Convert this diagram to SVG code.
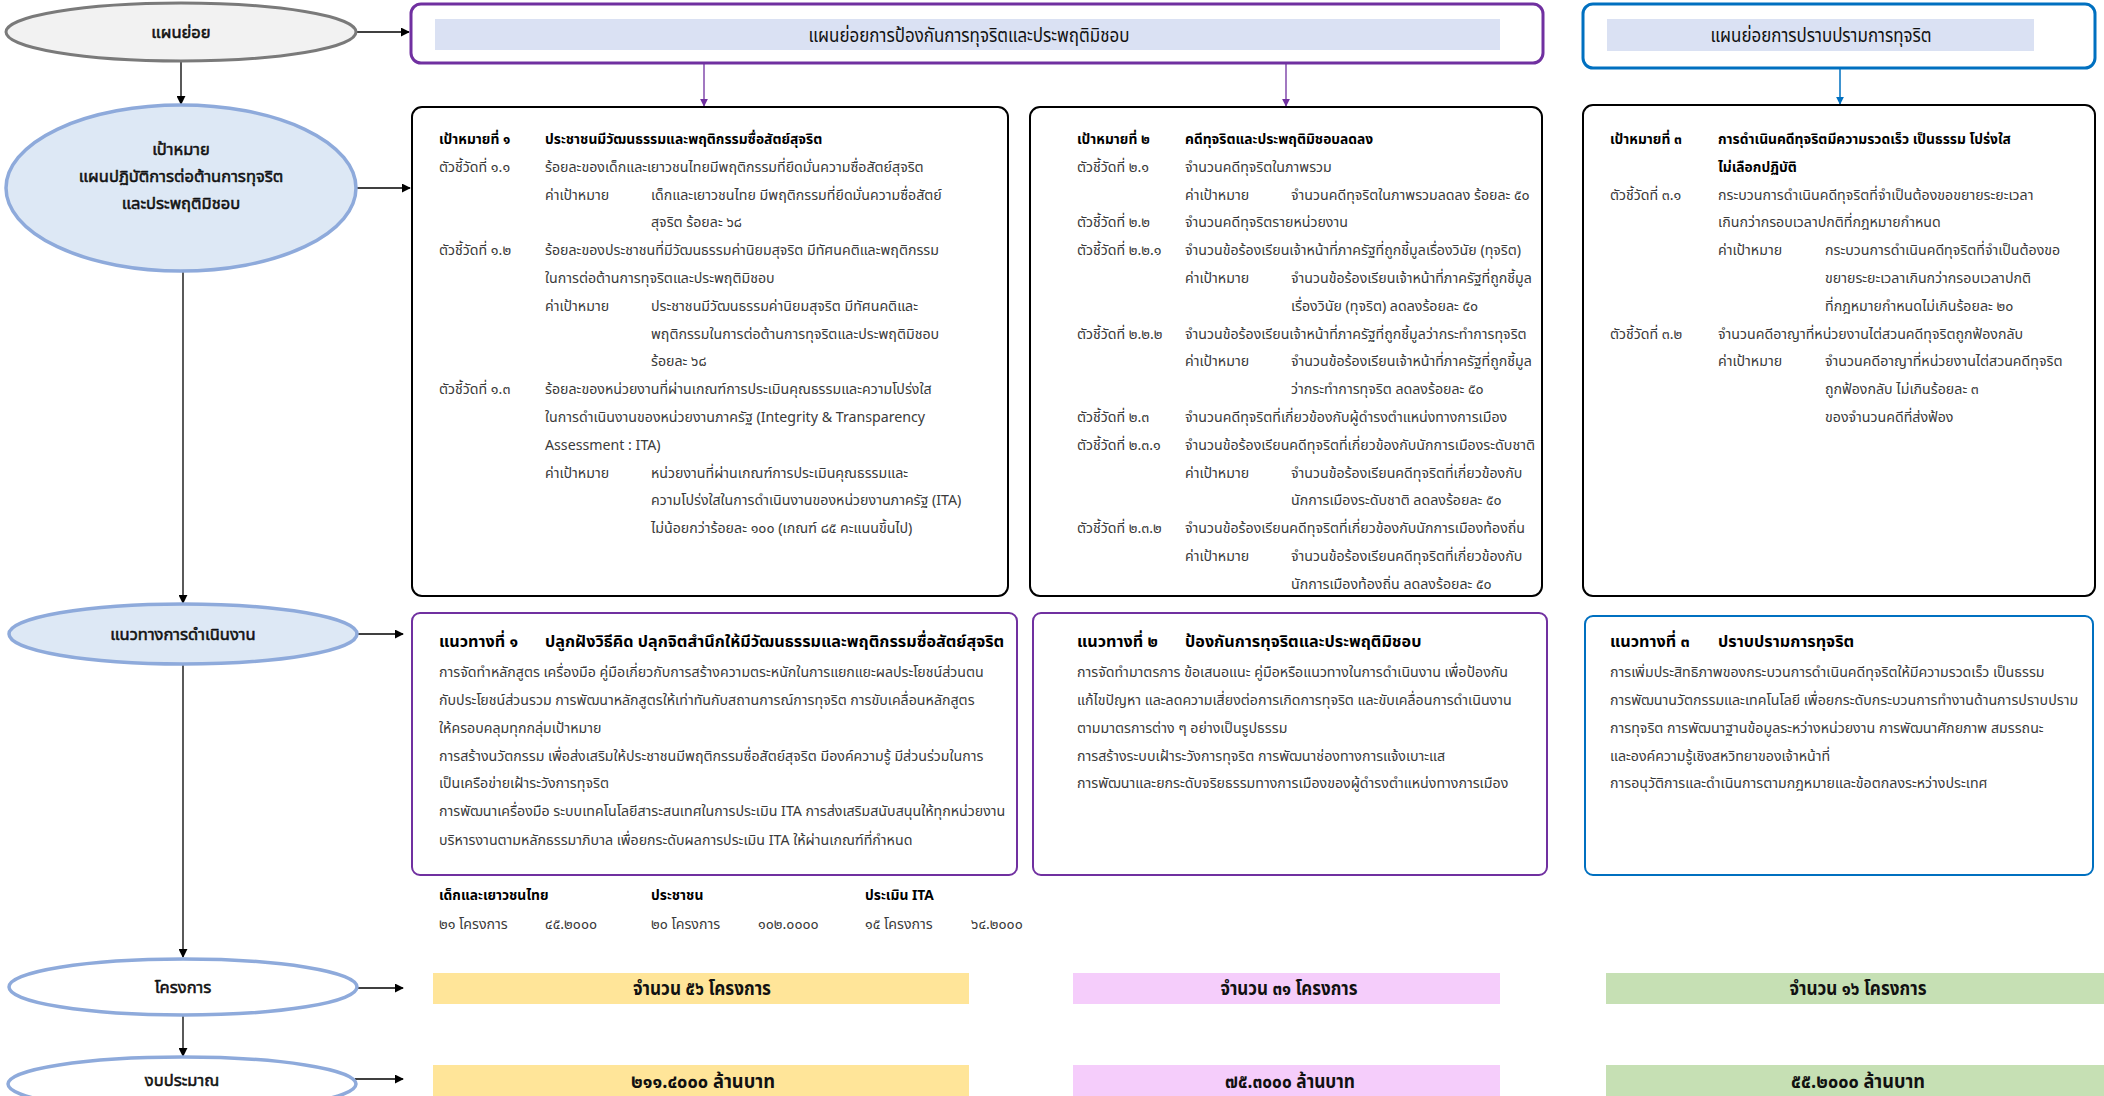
<svg xmlns="http://www.w3.org/2000/svg" width="2104" height="1096" viewBox="0 0 2104 1096">
<defs>
<marker id="ak" viewBox="0 0 10 10" refX="9" refY="5" markerWidth="9" markerHeight="9" markerUnits="userSpaceOnUse" orient="auto"><path d="M0,0 L10,5 L0,10 z" fill="#000"/></marker>
<marker id="ap" viewBox="0 0 10 10" refX="9" refY="5" markerWidth="8" markerHeight="8" markerUnits="userSpaceOnUse" orient="auto"><path d="M0,0 L10,5 L0,10 z" fill="#7030a0"/></marker>
<marker id="ab" viewBox="0 0 10 10" refX="9" refY="5" markerWidth="8" markerHeight="8" markerUnits="userSpaceOnUse" orient="auto"><path d="M0,0 L10,5 L0,10 z" fill="#0070c0"/></marker>
</defs>
<style>
text{font-family:"Noto Sans Thai","Tahoma","Leelawadee UI","Loma","Garuda","Noto Sans","DejaVu Sans",sans-serif;}
.t{font-size:14.2px;fill:#3a3a3a;}
.b{font-size:13.8px;fill:#000;font-weight:bold;}
.gt{font-size:16.2px;fill:#000;font-weight:bold;}
.el{font-size:16.5px;fill:#111;stroke:#111;stroke-width:0.55;text-anchor:middle;}
.hd{font-size:19px;fill:#111;text-anchor:middle;}
.bar{font-size:19px;fill:#111;font-weight:bold;text-anchor:middle;}
.box{fill:#fff;stroke:#000;stroke-width:2;}
.gp{fill:#fff;stroke:#7030a0;stroke-width:2;}
.gb{fill:#fff;stroke:#0070c0;stroke-width:2;}
.c{stroke:#000;stroke-width:1.3;fill:none;marker-end:url(#ak);}
.cp{stroke:#7030a0;stroke-width:1.3;fill:none;marker-end:url(#ap);}
.cb{stroke:#0070c0;stroke-width:1.5;fill:none;marker-end:url(#ab);}
</style>
<rect width="2104" height="1096" fill="#fff"/>

<g id="connectors">
<path class="c" d="M357,32 L409,32"/>
<path class="c" d="M181,62 L181,104"/>
<path class="c" d="M357,188 L410,188"/>
<path class="c" d="M183,271 L183,603"/>
<path class="c" d="M357,634 L403,634"/>
<path class="c" d="M183,665 L183,957"/>
<path class="c" d="M357,988 L403,988"/>
<path class="c" d="M183,1016 L183,1056"/>
<path class="c" d="M355,1079 L403,1079"/>
<path class="cp" d="M704,64 L704,106"/>
<path class="cp" d="M1286,64 L1286,106"/>
<path class="cb" d="M1840,68 L1840,104"/>
</g>

<g id="n-plan">
<ellipse cx="181" cy="32" rx="175" ry="29" fill="#f2f2f2" stroke="#7a7a7a" stroke-width="3"/>
<text class="el" x="181" y="38">แผนย่อย</text>
</g>
<g id="n-goal">
<ellipse cx="181" cy="188" rx="175" ry="83" fill="#dde8f5" stroke="#8eaadb" stroke-width="3.5"/>
<text class="el" x="181" y="155">เป้าหมาย</text>
<text class="el" x="181" y="182">แผนปฏิบัติการต่อต้านการทุจริต</text>
<text class="el" x="181" y="209">และประพฤติมิชอบ</text>
</g>
<g id="n-guide">
<ellipse cx="183" cy="634" rx="174" ry="30" fill="#dde8f5" stroke="#8eaadb" stroke-width="3.5"/>
<text class="el" x="183" y="640">แนวทางการดำเนินงาน</text>
</g>
<g id="n-project">
<ellipse cx="183" cy="987" rx="174" ry="28" fill="#fff" stroke="#8eaadb" stroke-width="3.5"/>
<text class="el" x="183" y="993">โครงการ</text>
</g>
<g id="n-budget">
<ellipse cx="182" cy="1084" rx="174" ry="27" fill="#fff" stroke="#8eaadb" stroke-width="3.5"/>
<text class="el" x="182" y="1086">งบประมาณ</text>
</g>

<g id="h-prevent">
<rect x="411" y="4" width="1132" height="59" rx="10" fill="#fff" stroke="#7030a0" stroke-width="3"/>
<rect x="435" y="19" width="1065" height="31" fill="#dae1f3"/>
<text class="hd" x="969" y="42" textLength="321" lengthAdjust="spacingAndGlyphs">แผนย่อยการป้องกันการทุจริตและประพฤติมิชอบ</text>
</g>
<g id="h-suppress">
<rect x="1583" y="4" width="512" height="64" rx="10" fill="#fff" stroke="#0070c0" stroke-width="3"/>
<rect x="1607" y="19" width="427" height="32" fill="#dae1f3"/>
<text class="hd" x="1821" y="42" textLength="221" lengthAdjust="spacingAndGlyphs">แผนย่อยการปราบปรามการทุจริต</text>
</g>

<g id="goal1">
<rect class="box" x="412" y="107" width="596" height="489" rx="10"/>
<text class="b" x="439" y="144">เป้าหมายที่ ๑</text><text class="b" x="545" y="144">ประชาชนมีวัฒนธรรมและพฤติกรรมซื่อสัตย์สุจริต</text>
<text class="t" x="439" y="172">ตัวชี้วัดที่ ๑.๑</text><text class="t" x="545" y="172">ร้อยละของเด็กและเยาวชนไทยมีพฤติกรรมที่ยึดมั่นความซื่อสัตย์สุจริต</text>
<text class="t" x="545" y="200">ค่าเป้าหมาย</text><text class="t" x="651" y="200">เด็กและเยาวชนไทย มีพฤติกรรมที่ยึดมั่นความซื่อสัตย์</text>
<text class="t" x="651" y="227">สุจริต ร้อยละ ๖๘</text>
<text class="t" x="439" y="255">ตัวชี้วัดที่ ๑.๒</text><text class="t" x="545" y="255">ร้อยละของประชาชนที่มีวัฒนธรรมค่านิยมสุจริต มีทัศนคติและพฤติกรรม</text>
<text class="t" x="545" y="283">ในการต่อต้านการทุจริตและประพฤติมิชอบ</text>
<text class="t" x="545" y="311">ค่าเป้าหมาย</text><text class="t" x="651" y="311">ประชาชนมีวัฒนธรรมค่านิยมสุจริต มีทัศนคติและ</text>
<text class="t" x="651" y="339">พฤติกรรมในการต่อต้านการทุจริตและประพฤติมิชอบ</text>
<text class="t" x="651" y="366">ร้อยละ ๖๘</text>
<text class="t" x="439" y="394">ตัวชี้วัดที่ ๑.๓</text><text class="t" x="545" y="394">ร้อยละของหน่วยงานที่ผ่านเกณฑ์การประเมินคุณธรรมและความโปร่งใส</text>
<text class="t" x="545" y="422">ในการดำเนินงานของหน่วยงานภาครัฐ (Integrity &amp; Transparency</text>
<text class="t" x="545" y="450">Assessment : ITA)</text>
<text class="t" x="545" y="478">ค่าเป้าหมาย</text><text class="t" x="651" y="478">หน่วยงานที่ผ่านเกณฑ์การประเมินคุณธรรมและ</text>
<text class="t" x="651" y="505">ความโปร่งใสในการดำเนินงานของหน่วยงานภาครัฐ (ITA)</text>
<text class="t" x="651" y="533">ไม่น้อยกว่าร้อยละ ๑๐๐ (เกณฑ์ ๘๕ คะแนนขึ้นไป)</text>
</g>

<g id="goal2">
<rect class="box" x="1030" y="107" width="512" height="489" rx="10"/>
<text class="b" x="1077" y="144">เป้าหมายที่ ๒</text><text class="b" x="1185" y="144">คดีทุจริตและประพฤติมิชอบลดลง</text>
<text class="t" x="1077" y="172">ตัวชี้วัดที่ ๒.๑</text><text class="t" x="1185" y="172">จำนวนคดีทุจริตในภาพรวม</text>
<text class="t" x="1185" y="200">ค่าเป้าหมาย</text><text class="t" x="1291" y="200">จำนวนคดีทุจริตในภาพรวมลดลง ร้อยละ ๕๐</text>
<text class="t" x="1077" y="227">ตัวชี้วัดที่ ๒.๒</text><text class="t" x="1185" y="227">จำนวนคดีทุจริตรายหน่วยงาน</text>
<text class="t" x="1077" y="255">ตัวชี้วัดที่ ๒.๒.๑</text><text class="t" x="1185" y="255">จำนวนข้อร้องเรียนเจ้าหน้าที่ภาครัฐที่ถูกชี้มูลเรื่องวินัย (ทุจริต)</text>
<text class="t" x="1185" y="283">ค่าเป้าหมาย</text><text class="t" x="1291" y="283">จำนวนข้อร้องเรียนเจ้าหน้าที่ภาครัฐที่ถูกชี้มูล</text>
<text class="t" x="1291" y="311">เรื่องวินัย (ทุจริต) ลดลงร้อยละ ๕๐</text>
<text class="t" x="1077" y="339">ตัวชี้วัดที่ ๒.๒.๒</text><text class="t" x="1185" y="339">จำนวนข้อร้องเรียนเจ้าหน้าที่ภาครัฐที่ถูกชี้มูลว่ากระทำการทุจริต</text>
<text class="t" x="1185" y="366">ค่าเป้าหมาย</text><text class="t" x="1291" y="366">จำนวนข้อร้องเรียนเจ้าหน้าที่ภาครัฐที่ถูกชี้มูล</text>
<text class="t" x="1291" y="394">ว่ากระทำการทุจริต ลดลงร้อยละ ๕๐</text>
<text class="t" x="1077" y="422">ตัวชี้วัดที่ ๒.๓</text><text class="t" x="1185" y="422">จำนวนคดีทุจริตที่เกี่ยวข้องกับผู้ดำรงตำแหน่งทางการเมือง</text>
<text class="t" x="1077" y="450">ตัวชี้วัดที่ ๒.๓.๑</text><text class="t" x="1185" y="450">จำนวนข้อร้องเรียนคดีทุจริตที่เกี่ยวข้องกับนักการเมืองระดับชาติ</text>
<text class="t" x="1185" y="478">ค่าเป้าหมาย</text><text class="t" x="1291" y="478">จำนวนข้อร้องเรียนคดีทุจริตที่เกี่ยวข้องกับ</text>
<text class="t" x="1291" y="505">นักการเมืองระดับชาติ ลดลงร้อยละ ๕๐</text>
<text class="t" x="1077" y="533">ตัวชี้วัดที่ ๒.๓.๒</text><text class="t" x="1185" y="533">จำนวนข้อร้องเรียนคดีทุจริตที่เกี่ยวข้องกับนักการเมืองท้องถิ่น</text>
<text class="t" x="1185" y="561">ค่าเป้าหมาย</text><text class="t" x="1291" y="561">จำนวนข้อร้องเรียนคดีทุจริตที่เกี่ยวข้องกับ</text>
<text class="t" x="1291" y="589">นักการเมืองท้องถิ่น ลดลงร้อยละ ๕๐</text>
</g>

<g id="goal3">
<rect class="box" x="1583" y="105" width="512" height="491" rx="10"/>
<text class="b" x="1610" y="144">เป้าหมายที่ ๓</text><text class="b" x="1718" y="144">การดำเนินคดีทุจริตมีความรวดเร็ว เป็นธรรม โปร่งใส</text>
<text class="b" x="1718" y="172">ไม่เลือกปฏิบัติ</text>
<text class="t" x="1610" y="200">ตัวชี้วัดที่ ๓.๑</text><text class="t" x="1718" y="200">กระบวนการดำเนินคดีทุจริตที่จำเป็นต้องขอขยายระยะเวลา</text>
<text class="t" x="1718" y="227">เกินกว่ากรอบเวลาปกติที่กฎหมายกำหนด</text>
<text class="t" x="1718" y="255">ค่าเป้าหมาย</text><text class="t" x="1825" y="255">กระบวนการดำเนินคดีทุจริตที่จำเป็นต้องขอ</text>
<text class="t" x="1825" y="283">ขยายระยะเวลาเกินกว่ากรอบเวลาปกติ</text>
<text class="t" x="1825" y="311">ที่กฎหมายกำหนดไม่เกินร้อยละ ๒๐</text>
<text class="t" x="1610" y="339">ตัวชี้วัดที่ ๓.๒</text><text class="t" x="1718" y="339">จำนวนคดีอาญาที่หน่วยงานไต่สวนคดีทุจริตถูกฟ้องกลับ</text>
<text class="t" x="1718" y="366">ค่าเป้าหมาย</text><text class="t" x="1825" y="366">จำนวนคดีอาญาที่หน่วยงานไต่สวนคดีทุจริต</text>
<text class="t" x="1825" y="394">ถูกฟ้องกลับ ไม่เกินร้อยละ ๓</text>
<text class="t" x="1825" y="422">ของจำนวนคดีที่ส่งฟ้อง</text>
</g>

<g id="guide1">
<rect class="gp" x="412" y="613" width="605" height="262" rx="8"/>
<text class="gt" x="439" y="647">แนวทางที่ ๑</text><text class="gt" x="545" y="647">ปลูกฝังวิธีคิด ปลุกจิตสำนึกให้มีวัฒนธรรมและพฤติกรรมซื่อสัตย์สุจริต</text>
<text class="t" x="439" y="677">การจัดทำหลักสูตร เครื่องมือ คู่มือเกี่ยวกับการสร้างความตระหนักในการแยกแยะผลประโยชน์ส่วนตน</text>
<text class="t" x="439" y="705">กับประโยชน์ส่วนรวม การพัฒนาหลักสูตรให้เท่าทันกับสถานการณ์การทุจริต การขับเคลื่อนหลักสูตร</text>
<text class="t" x="439" y="733">ให้ครอบคลุมทุกกลุ่มเป้าหมาย</text>
<text class="t" x="439" y="761">การสร้างนวัตกรรม เพื่อส่งเสริมให้ประชาชนมีพฤติกรรมซื่อสัตย์สุจริต มีองค์ความรู้ มีส่วนร่วมในการ</text>
<text class="t" x="439" y="788">เป็นเครือข่ายเฝ้าระวังการทุจริต</text>
<text class="t" x="439" y="816">การพัฒนาเครื่องมือ ระบบเทคโนโลยีสาระสนเทศในการประเมิน ITA การส่งเสริมสนับสนุนให้ทุกหน่วยงาน</text>
<text class="t" x="439" y="845">บริหารงานตามหลักธรรมาภิบาล เพื่อยกระดับผลการประเมิน ITA ให้ผ่านเกณฑ์ที่กำหนด</text>
</g>

<g id="guide2">
<rect class="gp" x="1033" y="613" width="514" height="262" rx="8"/>
<text class="gt" x="1077" y="647">แนวทางที่ ๒</text><text class="gt" x="1185" y="647">ป้องกันการทุจริตและประพฤติมิชอบ</text>
<text class="t" x="1077" y="677">การจัดทำมาตรการ ข้อเสนอแนะ คู่มือหรือแนวทางในการดำเนินงาน เพื่อป้องกัน</text>
<text class="t" x="1077" y="705">แก้ไขปัญหา และลดความเสี่ยงต่อการเกิดการทุจริต และขับเคลื่อนการดำเนินงาน</text>
<text class="t" x="1077" y="733">ตามมาตรการต่าง ๆ อย่างเป็นรูปธรรม</text>
<text class="t" x="1077" y="761">การสร้างระบบเฝ้าระวังการทุจริต การพัฒนาช่องทางการแจ้งเบาะแส</text>
<text class="t" x="1077" y="788">การพัฒนาและยกระดับจริยธรรมทางการเมืองของผู้ดำรงตำแหน่งทางการเมือง</text>
</g>

<g id="guide3">
<rect class="gb" x="1585" y="616" width="508" height="259" rx="8"/>
<text class="gt" x="1610" y="647">แนวทางที่ ๓</text><text class="gt" x="1718" y="647">ปราบปรามการทุจริต</text>
<text class="t" x="1610" y="677">การเพิ่มประสิทธิภาพของกระบวนการดำเนินคดีทุจริตให้มีความรวดเร็ว เป็นธรรม</text>
<text class="t" x="1610" y="705">การพัฒนานวัตกรรมและเทคโนโลยี เพื่อยกระดับกระบวนการทำงานด้านการปราบปราม</text>
<text class="t" x="1610" y="733">การทุจริต การพัฒนาฐานข้อมูลระหว่างหน่วยงาน การพัฒนาศักยภาพ สมรรถนะ</text>
<text class="t" x="1610" y="761">และองค์ความรู้เชิงสหวิทยาของเจ้าหน้าที่</text>
<text class="t" x="1610" y="788">การอนุวัติการและดำเนินการตามกฎหมายและข้อตกลงระหว่างประเทศ</text>
</g>

<g id="stats">
<text class="b" x="439" y="900">เด็กและเยาวชนไทย</text>
<text class="b" x="651" y="900">ประชาชน</text>
<text class="b" x="865" y="900">ประเมิน ITA</text>
<text class="t" x="439" y="929">๒๑ โครงการ</text><text class="t" x="545" y="929">๔๕.๒๐๐๐</text>
<text class="t" x="651" y="929">๒๐ โครงการ</text><text class="t" x="758" y="929">๑๐๒.๐๐๐๐</text>
<text class="t" x="865" y="929">๑๕ โครงการ</text><text class="t" x="971" y="929">๖๔.๒๐๐๐</text>
</g>

<g id="bars-projects">
<rect x="433" y="973" width="536" height="31" fill="#ffe599"/>
<text class="bar" x="702" y="995" textLength="138" lengthAdjust="spacingAndGlyphs">จำนวน ๕๖ โครงการ</text>
<rect x="1073" y="973" width="427" height="31" fill="#f5cdfb"/>
<text class="bar" x="1289" y="995" textLength="137" lengthAdjust="spacingAndGlyphs">จำนวน ๓๑ โครงการ</text>
<rect x="1606" y="973" width="498" height="31" fill="#c6e0b4"/>
<text class="bar" x="1858" y="995" textLength="137" lengthAdjust="spacingAndGlyphs">จำนวน ๑๖ โครงการ</text>
</g>
<g id="bars-budget">
<rect x="433" y="1065" width="536" height="31" fill="#ffe599"/>
<text class="bar" x="703" y="1088" textLength="144" lengthAdjust="spacingAndGlyphs">๒๑๑.๔๐๐๐ ล้านบาท</text>
<rect x="1073" y="1065" width="427" height="31" fill="#f5cdfb"/>
<text class="bar" x="1290" y="1088" textLength="130" lengthAdjust="spacingAndGlyphs">๗๕.๓๐๐๐ ล้านบาท</text>
<rect x="1606" y="1065" width="498" height="31" fill="#c6e0b4"/>
<text class="bar" x="1858" y="1088" textLength="134" lengthAdjust="spacingAndGlyphs">๕๕.๒๐๐๐ ล้านบาท</text>
</g>
</svg>
